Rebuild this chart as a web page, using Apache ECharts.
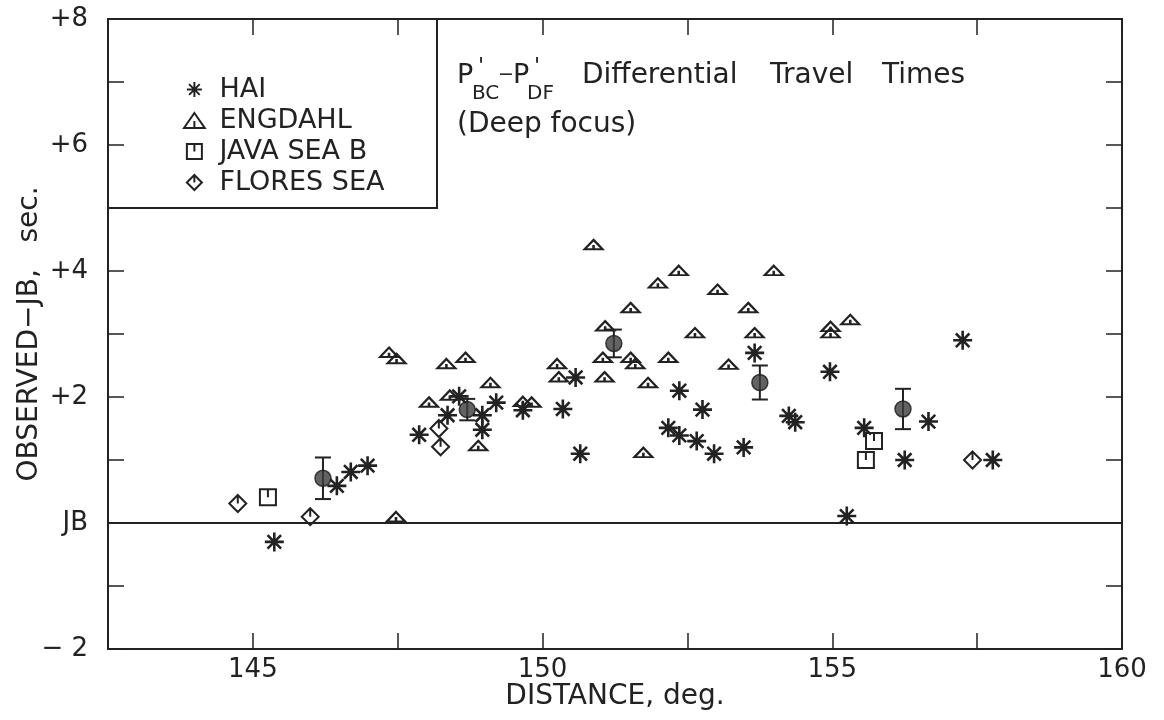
<!DOCTYPE html>
<html>
<head>
<meta charset="utf-8">
<script src="https://cdn.jsdelivr.net/npm/echarts@6/dist/echarts.min.js"></script>
<style>
html,body{margin:0;padding:0;background:#fff;}
#chart{width:1164px;height:720px;}
</style>
</head>
<body>
<div id="chart"></div>
<script>
// ---- data ----
const haiX = [145.37,146.45,146.69,146.98,147.87,148.36,148.56,148.96,148.96,149.20,149.66,150.35,150.57,150.65,152.17,152.36,152.36,152.66,152.76,152.96,153.47,153.66,154.25,154.36,154.96,155.25,155.55,156.25,156.66,157.25,157.77];
const haiY = [-0.30,0.59,0.81,0.91,1.40,1.71,2.01,1.71,1.48,1.91,1.79,1.81,2.31,1.10,1.51,2.10,1.39,1.30,1.80,1.10,1.20,2.70,1.70,1.60,2.40,0.11,1.51,1.00,1.61,2.90,1.00];

const engX = [147.35,147.48,147.47,148.04,148.34,148.40,148.67,148.89,149.10,149.66,149.81,150.25,150.28,150.88,151.08,151.04,151.07,151.52,151.52,151.60,151.74,151.82,151.99,152.17,152.35,152.63,153.02,153.21,153.55,153.66,153.99,154.97,154.97,155.31];
const engY = [2.71,2.61,0.10,1.92,2.53,2.03,2.63,1.23,2.23,1.93,1.92,2.53,2.32,4.42,3.13,2.63,2.32,3.42,2.63,2.53,1.12,2.23,3.81,2.63,4.01,3.02,3.71,2.52,3.42,3.02,4.01,3.12,3.02,3.23];

const javaX = [145.26,155.58,155.72];
const javaY = [0.41,1.00,1.30];

const floresX = [144.74,145.99,148.21,148.24,157.42];
const floresY = [0.31,0.10,1.50,1.21,1.00];

const meanX = [146.21,148.70,151.23,153.75,156.22];
const meanY = [0.71,1.80,2.85,2.23,1.81];
const meanErr = [0.33,0.17,0.22,0.27,0.32];

const seriesNames = ['HAI','ENGDAHL','JAVA SEA B','FLORES SEA'];
const xLabelValues = [145,150,155,160];
const xLabelTexts = ['145','150','155','160'];
const yLabelValues = [-2,0,2,4,6,8];
const yLabelTexts = ['\u2212 2','JB','+2','+4','+6','+8'];
const titleWords = ['Differential','Travel','Times'];
const subtitleText = '(Deep focus)';

// ---- helpers ----
const zip = (xs, ys) => xs.map((x, i) => [x, ys[i]]);
const INK = '#222';
const FONT = '"DejaVu Sans", sans-serif';

const SYM_STAR = 'path://M0,-8L0,8M-8,0L8,0M-5.7,-5.7L5.7,5.7M-5.7,5.7L5.7,-5.7';
const SYM_TRI = 'path://M0,-7L9,6L-9,6ZM0,0L0,6';
const SYM_SQ = 'path://M-7,-7L7,-7L7,7L-7,7ZM0,-7L0,0';
const SYM_DIA = 'path://M0,-8L8,0L0,8L-8,0ZM0,-8L0,0';

const chart = echarts.init(document.getElementById('chart'), null, {renderer: 'canvas'});

const xFmt = v => { const i = xLabelValues.indexOf(Math.round(v * 100) / 100); return i >= 0 ? xLabelTexts[i] : ''; };
const yFmt = v => { const i = yLabelValues.indexOf(Math.round(v)); return (i >= 0 && Math.abs(v - Math.round(v)) < 1e-6) ? yLabelTexts[i] : ''; };

const axisLine = {show: true, onZero: false, lineStyle: {color: INK, width: 2}};
const axisTick = {show: true, inside: true, length: 16, lineStyle: {color: INK, width: 1.5}};

const openStyle = (w) => ({color: 'rgba(0,0,0,0)', borderColor: INK, borderWidth: w, opacity: 1});
const txt = (left, top, text, size) => ({type: 'text', left, top, silent: true, z: 10,
  style: {text, font: size + 'px ' + FONT, fill: INK}});

const option = {
  backgroundColor: '#fff',
  animation: false,
  grid: {left: 108, right: 42, top: 19, bottom: 71, containLabel: false, outerBoundsMode: 'none'},
  xAxis: [
    {type: 'value', min: 142.5, max: 160, interval: 2.5, position: 'bottom',
     axisLine, axisTick, splitLine: {show: false},
     axisLabel: {formatter: xFmt, color: INK, fontSize: 26, fontFamily: FONT, margin: 8, showMinLabel: true, showMaxLabel: true},
     name: 'DISTANCE, deg.', nameLocation: 'middle', nameGap: 34, nameMoveOverlap: false,
     nameTextStyle: {color: INK, fontSize: 28, fontFamily: FONT}},
    {type: 'value', min: 142.5, max: 160, interval: 2.5, position: 'top',
     axisLine, axisTick, splitLine: {show: false}, axisLabel: {show: false}}
  ],
  yAxis: [
    {type: 'value', min: -2, max: 8, interval: 1, position: 'left',
     axisLine, axisTick, splitLine: {show: false},
     axisLabel: {formatter: yFmt, color: INK, fontSize: 26, fontFamily: FONT, margin: 20, showMinLabel: true, showMaxLabel: true},
     name: 'OBSERVED\u2212JB,   sec.', nameLocation: 'middle', nameGap: 64, nameRotate: 90, nameMoveOverlap: false,
     nameTextStyle: {color: INK, fontSize: 28, fontFamily: FONT}},
    {type: 'value', min: -2, max: 8, interval: 1, position: 'right',
     axisLine, axisTick, splitLine: {show: false}, axisLabel: {show: false}}
  ],
  legend: {
    data: seriesNames,
    orient: 'vertical', left: 178, top: 71,
    itemWidth: 40, itemHeight: 15, itemGap: 4,
    selectedMode: false,
    textStyle: {color: INK, fontSize: 27, fontFamily: FONT, lineHeight: 27}
  },
  graphic: [
    {type: 'rect', shape: {x: 108, y: 19, width: 329, height: 189}, style: {fill: 'none', stroke: INK, lineWidth: 2}, silent: true, z: 10},
    txt(457, 62, 'P', 27),
    txt(478, 56, "'", 22),
    txt(472, 84, 'BC', 20),
    txt(498, 66, '\u2212', 19),
    txt(513, 62, 'P', 27),
    txt(534, 56, "'", 22),
    txt(527, 84, 'DF', 20),
    txt(582, 62, titleWords[0], 28),
    txt(770, 62, titleWords[1], 28),
    txt(882, 62, titleWords[2], 28),
    txt(457, 111, subtitleText, 28)
  ],
  series: [
    {name: 'HAI', type: 'scatter', data: zip(haiX, haiY), symbol: SYM_STAR, symbolSize: 19, symbolKeepAspect: true,
     itemStyle: openStyle(2.6), z: 5,
     markLine: {silent: true, symbol: ['none', 'none'], label: {show: false},
       lineStyle: {color: INK, width: 2, type: 'solid'}, data: [{yAxis: 0}]}},
    {name: 'ENGDAHL', type: 'scatter', data: zip(engX, engY), symbol: SYM_TRI, symbolSize: [18, 13], symbolKeepAspect: true,
     itemStyle: openStyle(2.2), z: 4},
    {name: 'JAVA SEA B', type: 'scatter', data: zip(javaX, javaY), symbol: SYM_SQ, symbolSize: 16, symbolKeepAspect: true,
     itemStyle: openStyle(2), z: 4},
    {name: 'FLORES SEA', type: 'scatter', data: zip(floresX, floresY), symbol: SYM_DIA, symbolSize: 17, symbolKeepAspect: true,
     itemStyle: openStyle(2), z: 4},
    {name: 'err', type: 'custom', data: meanX.map((x, i) => [x, meanY[i], meanErr[i]]), z: 6, silent: true,
     renderItem: function (params, api) {
       const x = api.value(0), y = api.value(1), e = api.value(2);
       const top = api.coord([x, y + e]);
       const bot = api.coord([x, y - e]);
       const st = {stroke: INK, lineWidth: 2};
       return {type: 'group', children: [
         {type: 'line', shape: {x1: top[0], y1: top[1], x2: bot[0], y2: bot[1]}, style: st},
         {type: 'line', shape: {x1: top[0] - 8, y1: top[1], x2: top[0] + 8, y2: top[1]}, style: st},
         {type: 'line', shape: {x1: bot[0] - 8, y1: bot[1], x2: bot[0] + 8, y2: bot[1]}, style: st}
       ]};
     }},
    {name: 'mean', type: 'scatter', data: zip(meanX, meanY), symbol: 'circle', symbolSize: 16, z: 7,
     itemStyle: {color: '#3c3c3c', borderColor: '#1a1a1a', borderWidth: 1.5}}
  ]
};
chart.setOption(option);
</script>
</body>
</html>
